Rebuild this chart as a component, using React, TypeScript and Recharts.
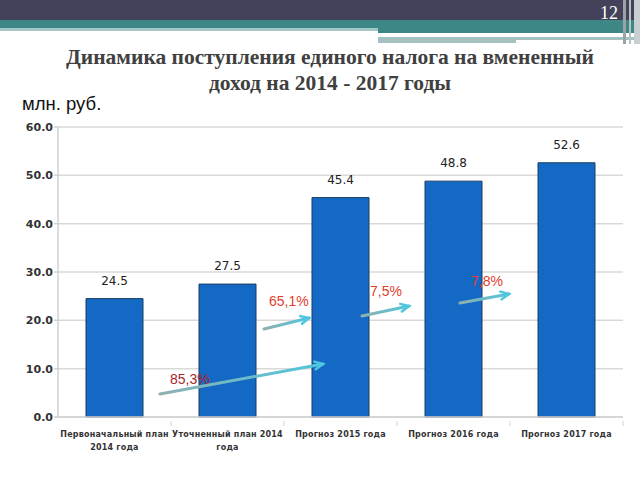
import { Bar, BarChart, CartesianGrid, LabelList, XAxis, YAxis } from "recharts";

const categories = ["plan2014", "refined2014", "f2015", "f2016", "f2017"];
const tickLines = [
  ["Первоначальный план", "2014 года"],
  ["Уточненный план  2014", "года"],
  ["Прогноз 2015 года"],
  ["Прогноз 2016 года"],
  ["Прогноз 2017 года"],
];
const revenue = [24.5, 27.5, 45.4, 48.8, 52.6];
const growthFromPrev = [null, null, 65.1, 7.5, 7.8];
const growthFromFirst = [null, null, 85.3, null, null];
const yTicks = [0, 10, 20, 30, 40, 50, 60];

const data = categories.map((c, i) => ({
  key: c,
  value: revenue[i],
  prev: growthFromPrev[i],
  first: growthFromFirst[i],
}));

const pct = (v: number) => `${v.toFixed(1).replace(".", ",")}%`;

function Arrow({ x1, y1, x2, y2, id }: { x1: number; y1: number; x2: number; y2: number; id: string }) {
  const ang = Math.atan2(y2 - y1, x2 - x1);
  const h = 9;
  const a1 = ang + Math.PI - 0.45;
  const a2 = ang + Math.PI + 0.45;
  return (
    <g>
      <defs>
        <linearGradient id={id} x1="0" y1="0" x2="1" y2="0">
          <stop offset="0%" stopColor="#8fb0b0" />
          <stop offset="100%" stopColor="#4ec6de" />
        </linearGradient>
      </defs>
      <line x1={x1} y1={y1} x2={x2} y2={y2} stroke={`url(#${id})`} strokeWidth={3} strokeLinecap="round" />
      <polyline
        points={`${x2 + h * Math.cos(a1)},${y2 + h * Math.sin(a1)} ${x2},${y2} ${x2 + h * Math.cos(a2)},${y2 + h * Math.sin(a2)}`}
        fill="none"
        stroke="#4ec6de"
        strokeWidth={2.5}
        strokeLinecap="round"
      />
    </g>
  );
}

// growth vs previous column, drawn to the left of the target bar
function PrevGrowth(props: any) {
  const { value, index } = props;
  if (value == null) return null;
  const vb = props.viewBox || props;
  const bx = vb.x;
  const by = vb.y + vb.height;
  const s = index - 2;
  return (
    <g>
      <text x={bx - 43 - 12 * s} y={by - 111 - 10 * s} fill="#e2402e" fontSize={14} fontFamily="Liberation Sans, Arial" fontWeight={500}>
        {pct(value)}
      </text>
      <Arrow id={`ap${index}`} x1={bx - 48 - 15 * s} y1={by - 88 - 13 * s} x2={bx - 3 - 13 * s} y2={by - 99 - 12 * s} />
    </g>
  );
}

function FirstGrowth(props: any) {
  const { value, index } = props;
  if (value == null) return null;
  const vb = props.viewBox || props;
  const bx = vb.x;
  const by = vb.y + vb.height;
  return (
    <g>
      <text x={bx - 142} y={by - 33} fill="#a8262c" fontSize={14} fontFamily="Liberation Sans, Arial" fontWeight={500}>
        {pct(value)}
      </text>
      <Arrow id={`af${index}`} x1={bx - 152} y1={by - 23} x2={bx + 11} y2={by - 53} />
    </g>
  );
}

function XTick(props: any) {
  const { x, y, payload, index } = props;
  const lines = tickLines[index] || [];
  const half = payload?.offset || 56.6;
  return (
    <g>
      <line x1={x + half} y1={y - 4} x2={x + half} y2={y + 1} stroke="#d0d0d0" strokeWidth={1} />
      {lines.map((l, i) => (
        <text
          key={i}
          x={x}
          y={y + 12 + i * 13}
          textAnchor="middle"
          fill="#333"
          fontSize={8}
          fontWeight="bold"
          fontFamily="DejaVu Sans"
          letterSpacing={0.2}
        >
          {l}
        </text>
      ))}
    </g>
  );
}

export default function App() {
  return (
    <div style={{ position: "absolute", left: 0, top: 0, width: 640, height: 480, background: "#fff", overflow: "hidden" }}>
      <div style={{ position: "absolute", left: 0, top: 0, width: 640, height: 21, background: "#42435a" }} />
      <div style={{ position: "absolute", left: 0, top: 20, width: 640, height: 9, background: "#3e8787" }} />
      <div style={{ position: "absolute", left: 0, top: 28, width: 378, height: 3, background: "#a3c6c6" }} />
      <div style={{ position: "absolute", left: 378, top: 28, width: 262, height: 5, background: "#3e8787" }} />
      <div style={{ position: "absolute", left: 378, top: 37, width: 138, height: 6, background: "#a6c1c1" }} />
      <div style={{ position: "absolute", left: 516, top: 37, width: 124, height: 3, background: "#a6c1c1" }} />
      <div style={{ position: "absolute", left: 623, top: 0, width: 3, height: 44, background: "#9aa4a6" }} />
      <div style={{ position: "absolute", left: 629, top: 0, width: 2, height: 44, background: "#b8c0c2" }} />
      <div style={{ position: "absolute", left: 634, top: 0, width: 6, height: 44, background: "#c8cfd0" }} />
      <div style={{ position: "absolute", left: 600, top: 3, color: "#fff", fontFamily: "Liberation Serif", fontSize: 18 }}>12</div>
      <div
        style={{
          position: "absolute",
          left: 0,
          top: 44,
          width: 660,
          textAlign: "center",
          fontFamily: "Liberation Serif",
          fontWeight: "bold",
          fontSize: 21.5,
          lineHeight: "26px",
          color: "#404040",
        }}
      >
        Динамика поступления единого налога на вмененный
        <br />
        доход на 2014 - 2017 годы
      </div>
      <div style={{ position: "absolute", left: 22, top: 93, fontFamily: "Liberation Sans", fontSize: 18.5, color: "#111" }}>
        млн. руб.
      </div>
      <div style={{ position: "absolute", left: 0, top: 0 }}>
        <BarChart width={640} height={480} data={data} margin={{ top: 127, right: 17, bottom: 23, left: 0 }}>
          <CartesianGrid vertical={false} stroke="#d9d9d9" strokeWidth={1.5} />
          <XAxis
            dataKey="key"
            height={40}
            interval={0}
            stroke="#d0d0d0"
            strokeWidth={1.5}
            tickLine={false}
            tick={<XTick />}
          />
          <YAxis
            width={58}
            domain={[0, 60]}
            ticks={yTicks}
            tickFormatter={(v: number) => v.toFixed(1)}
            stroke="#d0d0d0"
            strokeWidth={1.5}
            tickSize={4}
            tickMargin={1}
            tick={{ fill: "#333", fontSize: 11, fontWeight: "bold", fontFamily: "DejaVu Sans" }}
          />
          <Bar dataKey="value" fill="#1469c4" stroke="#1d3d63" strokeWidth={1} barSize={57} isAnimationActive={false}>
            <LabelList
              dataKey="value"
              position="top"
              offset={14}
              formatter={(v: any) => Number(v).toFixed(1)}
              style={{ fill: "#222", fontSize: 12, fontFamily: "DejaVu Sans" }}
            />
            <LabelList dataKey="prev" content={<PrevGrowth />} />
            <LabelList dataKey="first" content={<FirstGrowth />} />
          </Bar>
        </BarChart>
      </div>
    </div>
  );
}
